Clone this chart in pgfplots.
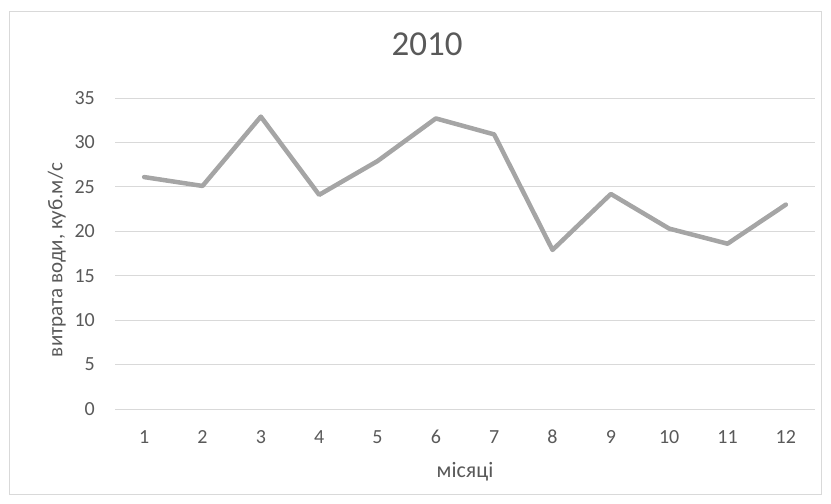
\documentclass[border=0pt]{standalone}
\usepackage{pgfplots}
\pgfplotsset{compat=1.18}
\usepackage{fontspec}
\setmainfont{Carlito}
\definecolor{txtgray}{HTML}{595959}
\definecolor{linegray}{HTML}{A5A5A5}
\definecolor{gridgray}{HTML}{D9D9D9}
\begin{document}
\begin{tikzpicture}[x=1bp,y=1bp]
\path (0,0) rectangle (831,504);
\draw[color=gridgray, line width=1bp] (9,9) rectangle (821,492);
\begin{axis}[
  at={(115bp,95bp)}, anchor=south west,
  scale only axis, width=700bp, height=311bp,
  xmin=0.5, xmax=12.5, ymin=0, ymax=35,
  xtick={1,...,12}, ytick={0,5,...,35},
  axis line style={draw=none},
  major tick length=0pt,
  ymajorgrids, grid style={color=gridgray, line width=0.9bp},
  /pgf/number format/assume math mode=true,
  tick label style={font=\fontsize{20bp}{24bp}\selectfont, text=txtgray},
  yticklabel style={anchor=east, inner sep=0pt, xshift=-20bp},
  xticklabel style={anchor=center, inner sep=0pt, yshift=-28bp},
  title={2010},
  title style={at={(axis description cs:0.446,1.154)}, anchor=center,
    font=\fontsize{35bp}{40bp}\selectfont, text=txtgray},
  xlabel={місяці},
  xlabel style={at={(axis description cs:0.5,-0.203)}, anchor=center,
    font=\fontsize{22bp}{26bp}\selectfont, text=txtgray},
  ylabel={витрата води, куб.м/с},
  ylabel style={at={(axis description cs:-0.083,0.479)}, anchor=center,
    font=\fontsize{21bp}{25bp}\selectfont, text=txtgray},
]
\addplot[color=linegray, line width=4.5bp, line join=round, line cap=round] coordinates {
  (1, 26.1)
  (2, 25.1)
  (3, 32.9)
  (4, 24.1)
  (5, 27.9)
  (6, 32.7)
  (7, 30.9)
  (8, 17.9)
  (9, 24.2)
  (10, 20.3)
  (11, 18.6)
  (12, 23.0)
};
\end{axis}
\end{tikzpicture}
\end{document}
